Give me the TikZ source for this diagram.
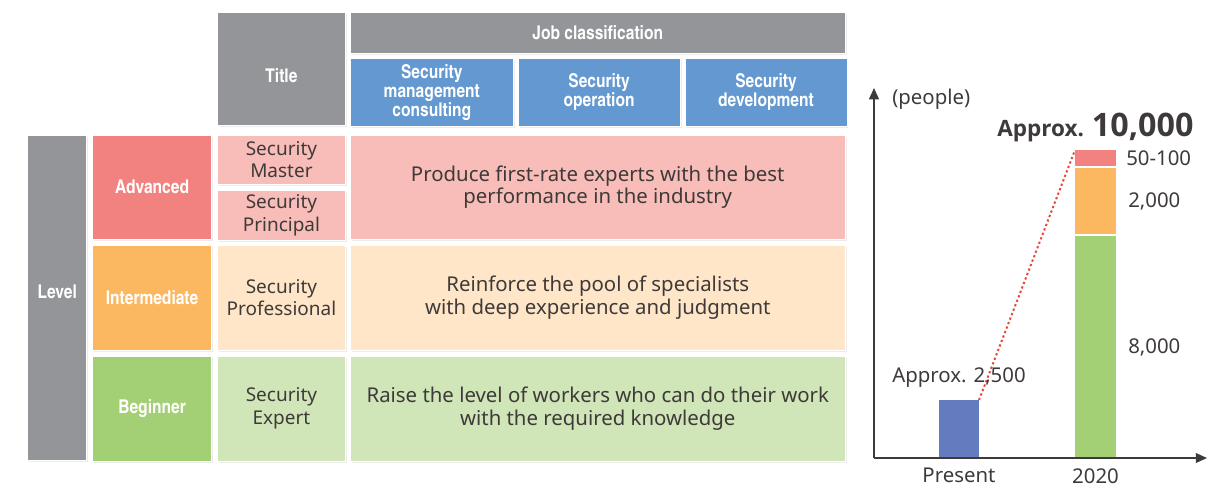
\documentclass[tikz,border=0pt]{standalone}
\usepackage{fontspec}
\setmainfont{Noto Sans}
\newfontfamily\condfont{texgyreheroscn-bold.otf}
\newfontfamily\boldfont{Open Sans}
\usetikzlibrary{positioning,shadows,arrows.meta}

\definecolor{hgray}{HTML}{939598}
\definecolor{jobblue}{HTML}{6398D0}
\definecolor{advred}{HTML}{F2827F}
\definecolor{advlight}{HTML}{F8BDB8}
\definecolor{intorange}{HTML}{FBB860}
\definecolor{intlight}{HTML}{FFE6C8}
\definecolor{beggreen}{HTML}{A3CF75}
\definecolor{beglight}{HTML}{D0E5B8}
\definecolor{nowblue}{HTML}{647BBF}
\definecolor{dotred}{HTML}{E8463A}
\definecolor{txt}{HTML}{3E3A39}

\begin{document}
\begin{tikzpicture}[
hdr/.style={rectangle, draw=white, line width=0.6pt, text=white, inner sep=1pt, align=center,
  font=\condfont\fontsize{13.5}{13.5}\selectfont,
  drop shadow={opacity=0.15, shadow xshift=1pt, shadow yshift=-1.2pt}},
cell/.style={hdr, text=txt, font=\fontsize{14.5}{16}\selectfont},
titlecell/.style={cell, font=\fontsize{13.5}{16}\selectfont},
bar/.style={rectangle, inner sep=0pt, outer sep=0pt},
lbl/.style={inner sep=0pt, text=txt, font=\fontsize{14.5}{16}\selectfont},
axis/.style={line width=1pt, txt, -{Triangle[length=8pt, width=7pt]}},
dotline/.style={dotred, line width=1.4pt, dash pattern=on 1.6pt off 1.8pt}
]
\useasboundingbox (0,0) rectangle (30.675,-12.175);

%Header
\node[hdr, fill=hgray, minimum width=3.2cm, minimum height=2.825cm, text height=0.7cm, anchor=north west] (title) at (5.425,-0.3) {Title};
\node[hdr, fill=hgray, minimum width=12.375cm, minimum height=1.025cm] (job) [right=0.1cm of title.north east, anchor=north west] {Job classification};
\node[hdr, fill=jobblue, minimum width=4.075cm, minimum height=1.7cm] (consult) [below=0.1cm of job.south west, anchor=north west] {Security\\management\\consulting};
\node[hdr, fill=jobblue, minimum width=4.05cm, minimum height=1.7cm] (oper) [right=0.1cm of consult.north east, anchor=north west] {Security\\operation};
\node[hdr, fill=jobblue, minimum width=4.05cm, minimum height=1.7cm] (devel) [right=0.1cm of oper.north east, anchor=north west] {Security\\development};

%Advanced
\node[titlecell, fill=advlight, minimum width=3.2cm, minimum height=1.225cm] (master) [below=0.225cm of title.south west, anchor=north west] {Security\\Master};
\node[titlecell, fill=advlight, minimum width=3.2cm, minimum height=1.25cm] (principal) [below=0.125cm of master.south west, anchor=north west] {Security\\Principal};
\node[cell, fill=advlight, minimum width=12.375cm, minimum height=2.6cm] (advdesc) [right=0.1cm of master.north east, anchor=north west] {Produce first-rate experts with the best\\performance in the industry};
\node[hdr, fill=advred, minimum width=2.975cm, minimum height=2.6cm] (adv) [left=0.125cm of master.north west, anchor=north east] {Advanced};
\node[hdr, fill=hgray, minimum width=1.475cm, minimum height=8.125cm, text depth=0.3cm] (level) [left=0.125cm of adv.north west, anchor=north east] {Level};

%Intermediate
\node[hdr, fill=intorange, minimum width=2.975cm, minimum height=2.625cm] (inter) [below=0.125cm of adv.south west, anchor=north west] {Intermediate};
\node[titlecell, fill=intlight, minimum width=3.2cm, minimum height=2.625cm] (prof) [right=0.125cm of inter.north east, anchor=north west] {Security\\Professional};
\node[cell, fill=intlight, minimum width=12.375cm, minimum height=2.625cm] (interdesc) [right=0.1cm of prof.north east, anchor=north west] {Reinforce the pool of specialists\\with deep experience and judgment};

%Beginner
\node[hdr, fill=beggreen, minimum width=2.975cm, minimum height=2.625cm] (beg) [below=0.125cm of inter.south west, anchor=north west] {Beginner};
\node[titlecell, fill=beglight, minimum width=3.2cm, minimum height=2.625cm] (expert) [right=0.125cm of beg.north east, anchor=north west] {Security\\Expert};
\node[cell, fill=beglight, minimum width=12.375cm, minimum height=2.625cm] (begdesc) [right=0.1cm of expert.north east, anchor=north west] {Raise the level of workers who can do their work\\with the required knowledge};

%Chart
\coordinate (o) at (21.85,-11.45);
\coordinate (ytip) at (21.85,-2.2);
\coordinate (xtip) at (30.175,-11.45);
\node[bar, fill=nowblue, minimum width=1cm, minimum height=1.45cm, anchor=south west] (now) at (23.475,-11.45) {};
\node[bar, fill=beggreen, minimum width=1.025cm, minimum height=5.55cm, anchor=south west] (g8000) at (26.875,-11.45) {};
\node[bar, fill=intorange, minimum width=1.025cm, minimum height=1.65cm, above=0.05cm of g8000] (g2000) {};
\node[bar, fill=advred, minimum width=1.025cm, minimum height=0.4cm, above=0.05cm of g2000] (g100) {};

\draw[dotline] (now.north east) -- (g100.north west);
\draw[axis] (o) -- (ytip);
\draw[axis] (o) -- (xtip);

\node[lbl, right=0.45cm of ytip, yshift=-0.275cm] (unit) {(people)};
\node[lbl, right=0.25cm of g100] (l100) {50-100};
\node[lbl, right=0.3cm of g2000] (l2000) {2,000};
\node[lbl, right=0.3cm of g8000] (l8000) {8,000};
\node[lbl, above=0.3cm of now] (lnow) {Approx. 2,500};
\node[lbl, above=0.2cm of g100, font=\boldfont\bfseries] (ltotal) {\fontsize{16}{18}\selectfont Approx. \fontsize{23}{24}\selectfont 10,000};
\node[lbl, below=0.25cm of now] (xnow) {Present};
\node[lbl, below=0.25cm of g8000] (x2020) {2020};
\end{tikzpicture}
\end{document}
